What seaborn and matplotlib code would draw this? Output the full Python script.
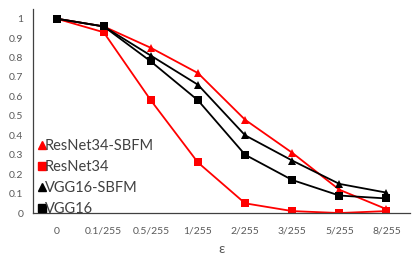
import matplotlib
matplotlib.use("Agg")
import matplotlib.pyplot as plt
from matplotlib.lines import Line2D
import seaborn as sns
import pandas as pd

categories = ["0", "0.1/255", "0.5/255", "1/255", "2/255", "3/255", "5/255", "8/255"]
resnet34_sbfm = [1.0, 0.96, 0.85, 0.72, 0.48, 0.31, 0.12, 0.02]
resnet34 = [1.0, 0.93, 0.58, 0.26, 0.05, 0.01, 0.0, 0.01]
vgg16_sbfm = [1.0, 0.96, 0.81, 0.66, 0.40, 0.27, 0.15, 0.105]
vgg16 = [1.0, 0.96, 0.78, 0.58, 0.30, 0.17, 0.09, 0.075]
series_names = ["ResNet34-SBFM", "ResNet34", "VGG16-SBFM", "VGG16"]
series_values = [resnet34_sbfm, resnet34, vgg16_sbfm, vgg16]
colors = ["#ff0000", "#ff0000", "#000000", "#000000"]
markers = ["^", "s", "^", "s"]

rows = []
for name, vals in zip(series_names, series_values):
    for c, v in zip(categories, vals):
        rows.append({"eps": c, "acc": v, "model": name})
df = pd.DataFrame(rows)

sns.set_theme(style="white")
plt.rcParams["font.family"] = ["Lato", "DejaVu Sans"]

fig = plt.figure(figsize=(4.15, 2.63), dpi=100)
ax = fig.add_axes([0.0795, 0.19, 0.9085, 0.776])

sns.lineplot(data=df, x="eps", y="acc", hue="model", style="model",
             hue_order=series_names, style_order=series_names,
             palette=dict(zip(series_names, colors)),
             markers=dict(zip(series_names, markers)),
             dashes=False, sort=False, markersize=6.2, linewidth=1.3,
             markeredgewidth=0, ax=ax, legend=False)

ax.set_xlim(-0.5, 7.5)
ax.set_ylim(0, 1.05)
ax.set_yticks([i / 10 for i in range(11)])
ax.set_yticklabels(["0", "0.1", "0.2", "0.3", "0.4", "0.5", "0.6", "0.7", "0.8", "0.9", "1"])
ax.tick_params(axis="both", labelsize=7.5, labelcolor="#595959")
ax.tick_params(axis="x", length=0, pad=10)
ax.tick_params(axis="y", length=3, width=0.8, direction="out", color="#404040", pad=4)
for s in ["top", "right"]:
    ax.spines[s].set_visible(False)
for s in ["left", "bottom"]:
    ax.spines[s].set_color("#404040")
    ax.spines[s].set_linewidth(0.9)
ax.set_ylabel("")
ax.set_xlabel("ε", fontsize=10, color="#595959", labelpad=5)

handles = [Line2D([], [], color=c, marker=m, linestyle="None", markersize=5.5)
           for c, m in zip(colors, markers)]
leg = ax.legend(handles, series_names, loc="lower left", bbox_to_anchor=(-0.005, -0.05),
                frameon=False, fontsize=10.5,
                handlelength=0.45, handletextpad=0.0,
                labelspacing=0.47, borderaxespad=0.2, borderpad=0.3)
for t in leg.get_texts():
    t.set_color("#404040")

fig.savefig("out.png", dpi=100)
